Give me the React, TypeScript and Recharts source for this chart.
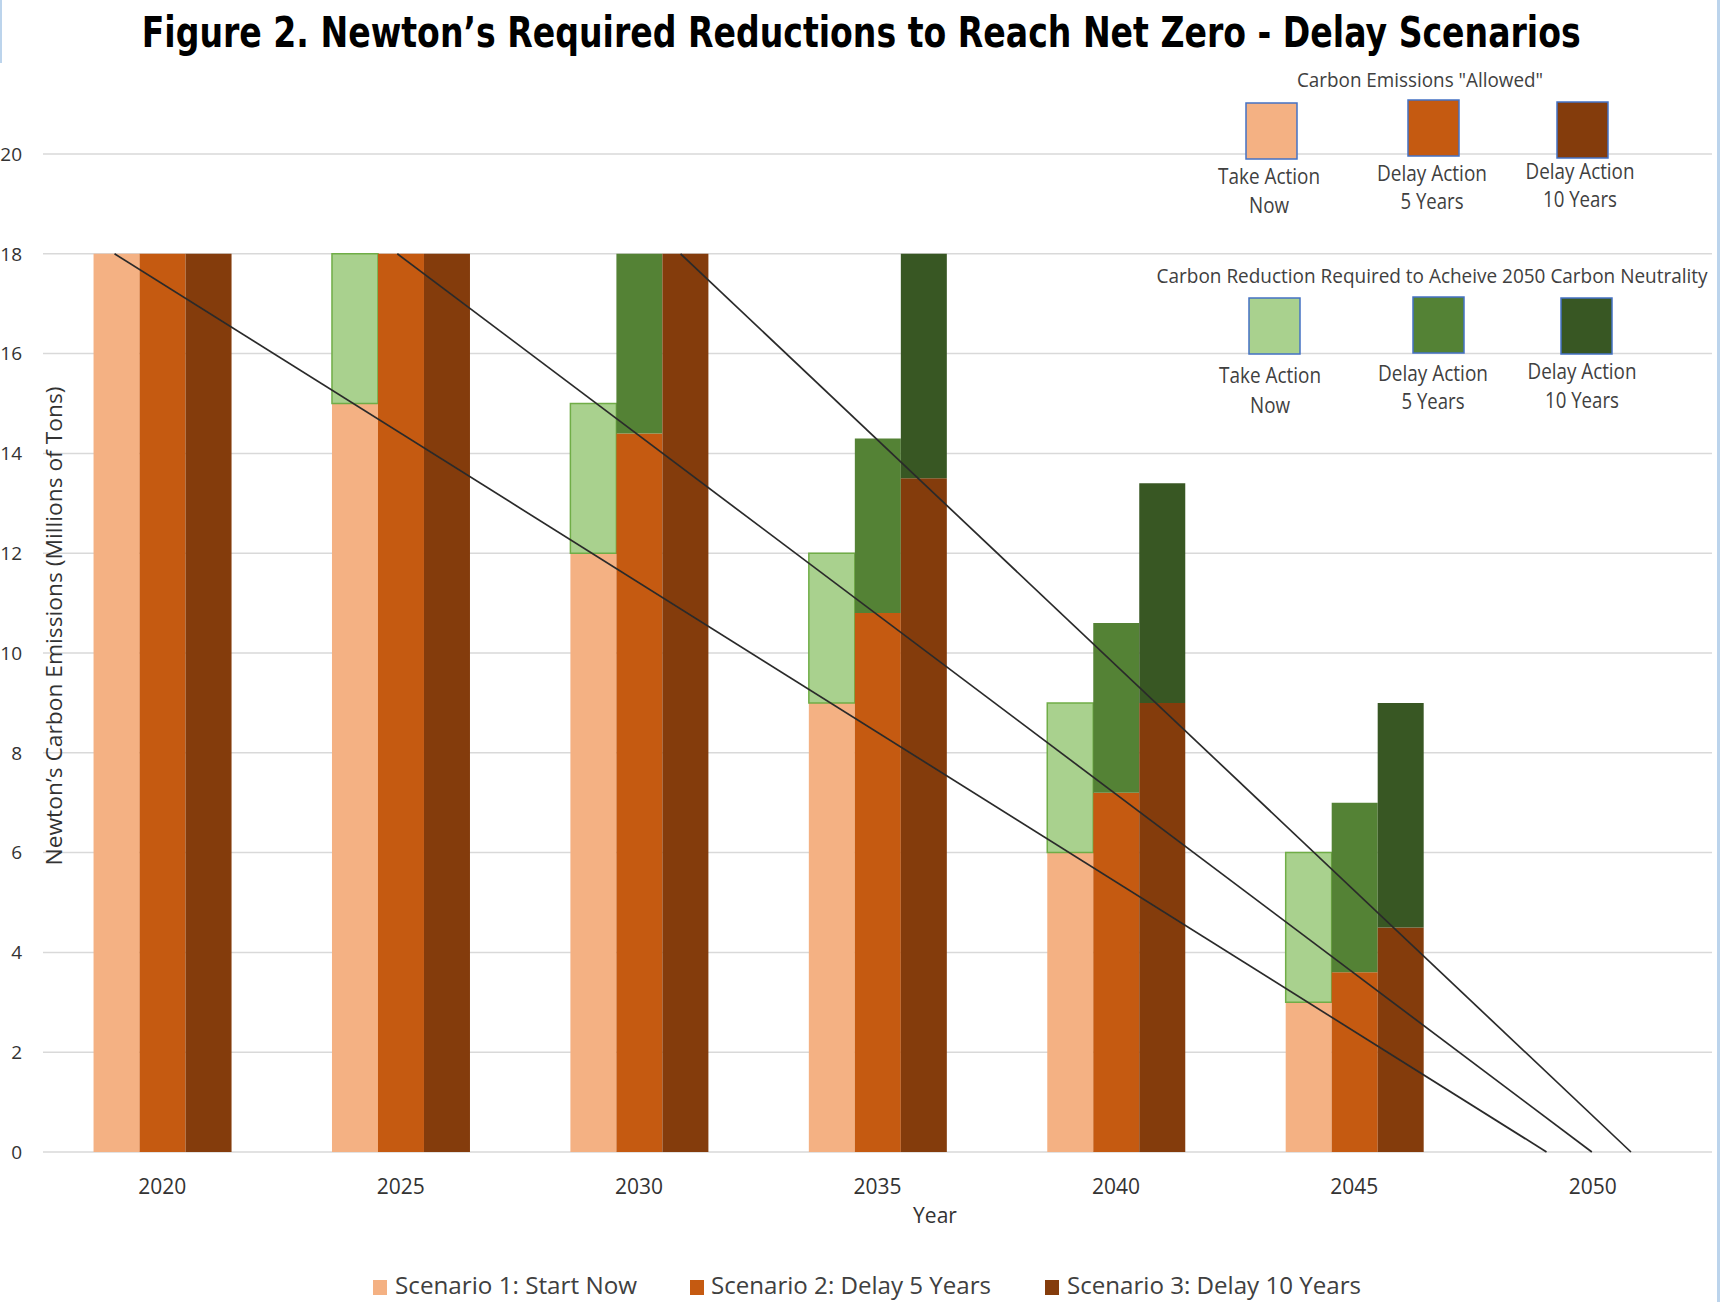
import React from 'react';
import { ComposedChart, Bar, Line, XAxis, YAxis, CartesianGrid } from 'recharts';

// ---------- data ----------
const years = ['2020', '2025', '2030', '2035', '2040', '2045', '2050'];
const nowAllowed = [18, 15, 12, 9, 6, 3, 0];
const nowReduction = [0, 3, 3, 3, 3, 3, 0];
const delay5Allowed = [18, 18, 14.4, 10.8, 7.2, 3.6, 0];
const delay5Reduction = [0, 0, 3.6, 3.5, 3.4, 3.4, 0];
const delay10Allowed = [18, 18, 18, 13.5, 9, 4.5, 0];
const delay10Reduction = [0, 0, 0, 4.5, 4.4, 4.5, 0];
const yTicks = [0, 2, 4, 6, 8, 10, 12, 14, 16, 18, 20];

// straight reduction paths (start year / end year, value 18 -> 0)
const pathNowYears = [2019.0, 2049.03];
const pathNowValues = [18, 0];
const path5Years = [2024.93, 2049.98];
const path5Values = [18, 0];
const path10Years = [2030.87, 2050.8];
const path10Values = [18, 0];

const titleText = 'Figure 2. Newton\u2019s Required Reductions to Reach Net Zero - Delay Scenarios';
const yAxisTitle = 'Newton\u2019s Carbon Emissions (Millions of Tons)';
const xAxisTitle = 'Year';
const allowedTitle = 'Carbon Emissions "Allowed"';
const reductionTitle = 'Carbon Reduction Required to Acheive 2050 Carbon Neutrality';
const legendLine1 = ['Take Action', 'Delay Action', 'Delay Action'];
const legendLine2 = ['Now', '5 Years', '10 Years'];
const bottomLegend = ['Scenario 1: Start Now', 'Scenario 2: Delay 5 Years', 'Scenario 3: Delay 10 Years'];

const allowedColors = ['#F4B183', '#C55A11', '#843C0C'];
const reductionColors = ['#A9D18E', '#548235', '#385723'];

const chartData = years.map((y, i) => ({
  year: y,
  nowAllowed: nowAllowed[i],
  nowReduction: nowReduction[i],
  delay5Allowed: delay5Allowed[i],
  delay5Reduction: delay5Reduction[i],
  delay10Allowed: delay10Allowed[i],
  delay10Reduction: delay10Reduction[i],
}));

const mkPath = (xs: number[], vs: number[]) => xs.map((x, i) => ({ yr: x, value: vs[i] }));
const pathNow = mkPath(pathNowYears, pathNowValues);
const path5 = mkPath(path5Years, path5Values);
const path10 = mkPath(path10Years, path10Values);

const FONT = '"Open Sans", "Liberation Sans", sans-serif';

// layout of the legend blocks
const sqX = [[1246, 1408, 1557], [1249, 1413, 1561]];
const sqY = [[103, 100, 102], [298, 297, 298]];
const labCx = [[1269, 1432, 1580], [1270, 1433, 1582]];
const labB1 = [[184, 181, 179], [383, 381, 379]];
const labB2 = [[213, 209, 207], [413, 409, 408]];
const lab1W = [102, 110, 109];
const lab2W = [40, 63, 74];

const bottomSqX = [373, 690, 1045];
const bottomTxX = [395, 711, 1067];
const bottomTxW = [242, 280, 294];

export default function App() {
  return (
    <div style={{ position: 'absolute', left: 0, top: 0, width: 1721, height: 1302, background: '#fff', overflow: 'hidden' }}>
      <ComposedChart
        width={1721}
        height={1302}
        data={chartData}
        margin={{ top: 154, right: 9, bottom: 90, left: 0 }}
        barCategoryGap="21.2%"
        barGap={0}
      >
        <CartesianGrid horizontal vertical={false} stroke="#d9d9d9" strokeWidth={1.5} />
        <XAxis
          dataKey="year"
          type="category"
          interval={0}
          tickLine={false}
          axisLine={false}
          tickSize={0}
          tickMargin={27}
          height={60}
          tick={{ fill: '#333', fontSize: 21, fontFamily: FONT }}
        />
        <XAxis xAxisId="yr" dataKey="yr" type="number" domain={[2017.5, 2052.5]} allowDataOverflow hide />
        <YAxis
          domain={[0, 20]}
          ticks={yTicks}
          width={43}
          tickLine={false}
          axisLine={false}
          tickSize={0}
          tickMargin={21}
          tick={{ fill: '#333', fontSize: 19, fontFamily: FONT }}
        />
        <Bar dataKey="nowAllowed" stackId="s1" fill={allowedColors[0]} isAnimationActive={false} />
        <Bar dataKey="nowReduction" stackId="s1" fill={reductionColors[0]} stroke="#70AD47" strokeWidth={1.5} isAnimationActive={false} />
        <Bar dataKey="delay5Allowed" stackId="s2" fill={allowedColors[1]} isAnimationActive={false} />
        <Bar dataKey="delay5Reduction" stackId="s2" fill={reductionColors[1]} isAnimationActive={false} />
        <Bar dataKey="delay10Allowed" stackId="s3" fill={allowedColors[2]} isAnimationActive={false} />
        <Bar dataKey="delay10Reduction" stackId="s3" fill={reductionColors[2]} isAnimationActive={false} />
        <Line data={pathNow} xAxisId="yr" dataKey="value" type="linear" stroke="#2a2a2a" strokeWidth={1.7} dot={false} activeDot={false} isAnimationActive={false} />
        <Line data={path5} xAxisId="yr" dataKey="value" type="linear" stroke="#2a2a2a" strokeWidth={1.7} dot={false} activeDot={false} isAnimationActive={false} />
        <Line data={path10} xAxisId="yr" dataKey="value" type="linear" stroke="#2a2a2a" strokeWidth={1.7} dot={false} activeDot={false} isAnimationActive={false} />
      </ComposedChart>

      <svg width={1721} height={1302} style={{ position: 'absolute', left: 0, top: 0, pointerEvents: 'none' }}>
        <text x={0} y={0} transform="translate(141.7 46.7) scale(1 1.4)" fontFamily='"DejaVu Sans", sans-serif' fontWeight="bold" fontSize={30} fill="#000"
          textLength={1439} lengthAdjust="spacingAndGlyphs">{titleText}</text>

        <text x={62} y={626} transform="rotate(-90 62 626)" textAnchor="middle" fontFamily={FONT} fontSize={21} fill="#333"
          textLength={479} lengthAdjust="spacingAndGlyphs">{yAxisTitle}</text>

        <text x={935} y={1223} textAnchor="middle" fontFamily={FONT} fontSize={21} fill="#333">{xAxisTitle}</text>

        <text x={1297} y={87} fontFamily={FONT} fontSize={20} fill="#404040" textLength={246} lengthAdjust="spacingAndGlyphs">{allowedTitle}</text>
        <text x={0} y={0} transform={`translate(1156.6 283) scale(1 ${20 / 17})`} fontFamily={FONT} fontSize={17} fill="#404040"
          textLength={551} lengthAdjust="spacingAndGlyphs">{reductionTitle}</text>

        {[allowedColors, reductionColors].map((cols, g) =>
          cols.map((c, i) => (
            <g key={`lg${g}-${i}`}>
              <rect x={sqX[g][i]} y={sqY[g][i]} width={51} height={56} fill={c} stroke="#4472C4" strokeWidth={1.5} />
              <text x={labCx[g][i]} y={labB1[g][i]} textAnchor="middle" fontFamily={FONT} fontSize={21} fill="#404040"
                textLength={lab1W[i]} lengthAdjust="spacingAndGlyphs">{legendLine1[i]}</text>
              <text x={labCx[g][i]} y={labB2[g][i]} textAnchor="middle" fontFamily={FONT} fontSize={21} fill="#404040"
                textLength={lab2W[i]} lengthAdjust="spacingAndGlyphs">{legendLine2[i]}</text>
            </g>
          ))
        )}

        {bottomLegend.map((t, i) => (
          <g key={`bl${i}`}>
            <rect x={bottomSqX[i]} y={1280} width={14} height={15} fill={allowedColors[i]} />
            <text x={bottomTxX[i]} y={1294} fontFamily={FONT} fontSize={24} fill="#404040"
              textLength={bottomTxW[i]} lengthAdjust="spacingAndGlyphs">{t}</text>
          </g>
        ))}

        <rect x={0} y={0} width={2} height={63} fill="#bcd4ec" />
        <rect x={1717} y={0} width={3} height={1302} fill="#bcd4ec" />
      </svg>
    </div>
  );
}
